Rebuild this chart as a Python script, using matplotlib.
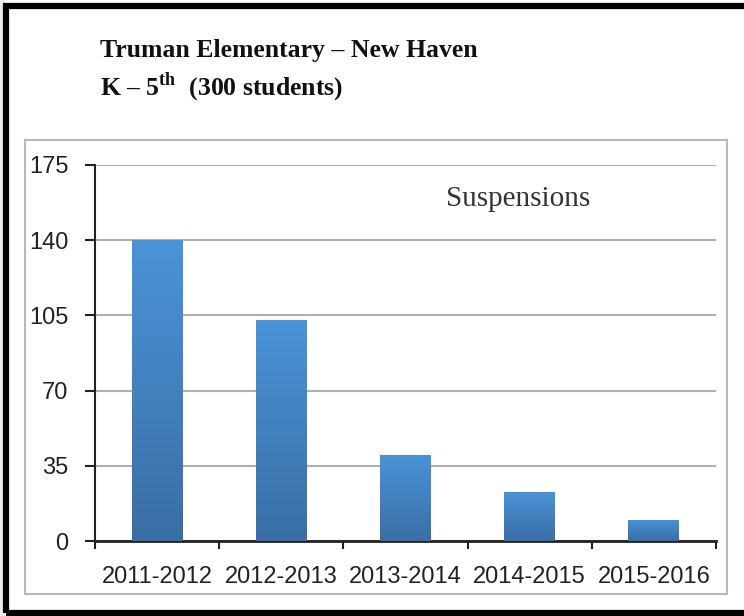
import matplotlib.pyplot as plt
import numpy as np
from matplotlib.patches import Rectangle
from matplotlib.colors import LinearSegmentedColormap

years = ['2011-2012', '2012-2013', '2013-2014', '2014-2015', '2015-2016']
suspensions = [140, 103, 40, 23, 10]
yticks = [0, 35, 70, 105, 140, 175]

plt.rcParams['mathtext.fontset'] = 'custom'
plt.rcParams['mathtext.rm'] = 'Liberation Serif:bold'

W, H = 744, 616
fig = plt.figure(figsize=(W / 100, H / 100), dpi=100)
fig.patch.set_facecolor('white')

def fx(px):
    return px / W

def fy(py):
    return 1 - py / H

# light gray strip on the left, black outer border
fig.patches.append(Rectangle((0, 0), fx(5), 1, transform=fig.transFigure,
                             facecolor='#ececec', edgecolor='none', zorder=0))
fig.patches.append(Rectangle((fx(6), fy(613)), fx(800), fy(6) - fy(613), transform=fig.transFigure,
                             facecolor='none', edgecolor='black', linewidth=4.5, zorder=5))
# inner gray frame (chart area)
fig.patches.append(Rectangle((fx(25), fy(594)), fx(727) - fx(25), fy(140) - fy(594),
                             transform=fig.transFigure, facecolor='none',
                             edgecolor='#b8b8b8', linewidth=1.5, zorder=1))

title_font = dict(family='Liberation Serif', weight='bold', color='#111111')
fig.text(fx(100), fy(57), 'Truman Elementary \u2013 New Haven', fontsize=18.5, **title_font)
fig.text(fx(100), fy(95), 'K \u2013 5$^{\\mathrm{th}}$  (300 students)', fontsize=18.5, **title_font)

ax = fig.add_axes([fx(95), fy(541), fx(716) - fx(95), fy(165) - fy(541)])
x = np.arange(len(years))
bars = ax.bar(x, suspensions, width=0.41, color='none', edgecolor='none', zorder=3)

cmap = LinearSegmentedColormap.from_list('bar', ['#3a6ea5', '#4a93d8'])
grad = np.linspace(0, 1, 256).reshape(-1, 1)
for b in bars:
    x0, w, h = b.get_x(), b.get_width(), b.get_height()
    im = ax.imshow(grad, cmap=cmap, origin='lower', aspect='auto',
                   extent=(x0, x0 + w, 0, h), zorder=3)
    im.set_clip_path(b)

ax.set_xlim(-0.5, len(years) - 0.5)
ax.set_ylim(0, 175)
ax.set_yticks(yticks)
ax.set_yticklabels([str(v) for v in yticks], fontsize=17, family='Liberation Sans', color='#222222')
ax.set_xticks(x)
ax.set_xticklabels(years, fontsize=17, family='Liberation Sans', color='#222222')
ax.set_xticks(np.arange(len(years) + 1) - 0.5, minor=True)
ax.tick_params(axis='x', which='major', length=0, pad=18)
ax.tick_params(axis='x', which='minor', length=6, width=1.5, direction='out', color='#222222')
ax.tick_params(axis='y', length=7, width=1.5, direction='out', pad=12, color='#222222')

ax.grid(axis='y', color='#b0b0b0', linewidth=1.5, zorder=0)
ax.set_axisbelow(True)
for s in ['top', 'right']:
    ax.spines[s].set_visible(False)
ax.spines['left'].set_linewidth(1.5)
ax.spines['bottom'].set_linewidth(2)
ax.spines['left'].set_color('#222222')
ax.spines['bottom'].set_color('#222222')

ax.text(2.33, 159, 'Suspensions', fontsize=21, family='Liberation Serif',
        color='#333333', va='center')

fig.savefig('out.png', dpi=100)
